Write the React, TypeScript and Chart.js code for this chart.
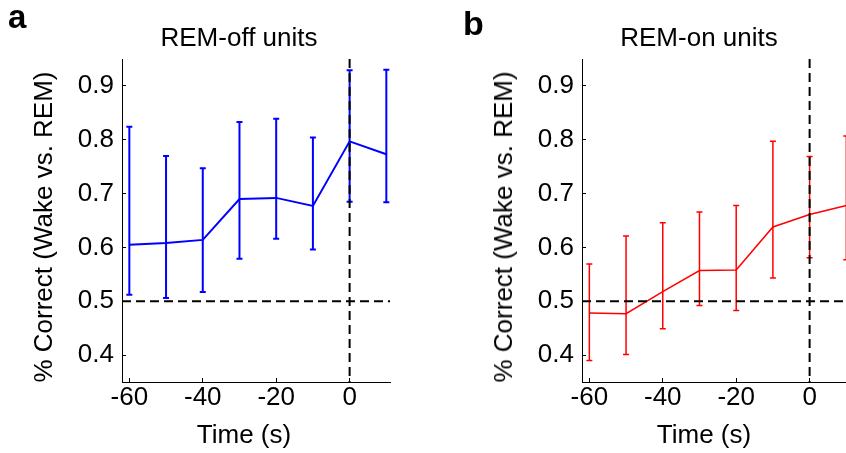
import React, { useEffect, useRef } from "react";
import { Chart, registerables } from "chart.js";

Chart.register(...registerables);

// ---------- data ----------
const timePoints = [-60, -50, -40, -30, -20, -10, 0, 10];

const remOffMean = [0.605, 0.608, 0.614, 0.69, 0.692, 0.677, 0.797, 0.773];
const remOffUpper = [0.824, 0.77, 0.747, 0.833, 0.839, 0.804, 0.929, 0.93];
const remOffLower = [0.512, 0.506, 0.517, 0.579, 0.616, 0.596, 0.685, 0.684];

const remOnMean = [0.478, 0.477, 0.518, 0.557, 0.558, 0.638, 0.661, 0.678];
const remOnUpper = [0.569, 0.621, 0.646, 0.666, 0.678, 0.797, 0.769, 0.807];
const remOnLower = [0.39, 0.401, 0.449, 0.492, 0.483, 0.543, 0.581, 0.577];

const yTicks = [0.4, 0.5, 0.6, 0.7, 0.8, 0.9];
const xTicks = [-60, -40, -20, 0];
const chanceLevel = 0.5;
const onsetTime = 0;

const FONT = '"Liberation Sans", Arial, Helvetica, sans-serif';

type PanelProps = {
  mean: number[];
  upper: number[];
  lower: number[];
  color: string;
  lineWidth: number;
};

function makeOverlayPlugin(p: PanelProps) {
  return {
    id: "overlay",
    afterDatasetsDraw(chart: any) {
      const { ctx, chartArea, scales } = chart;
      const xs = scales.x;
      const ys = scales.y;
      ctx.save();
      // error bars
      ctx.strokeStyle = p.color;
      ctx.lineWidth = p.lineWidth;
      ctx.setLineDash([]);
      for (let i = 0; i < timePoints.length; i++) {
        const px = xs.getPixelForValue(timePoints[i]);
        const pu = ys.getPixelForValue(p.upper[i]);
        const pl = ys.getPixelForValue(p.lower[i]);
        ctx.beginPath();
        ctx.moveTo(px, pu);
        ctx.lineTo(px, pl);
        ctx.moveTo(px - 3, pu);
        ctx.lineTo(px + 3, pu);
        ctx.moveTo(px - 3, pl);
        ctx.lineTo(px + 3, pl);
        ctx.stroke();
      }
      // reference dashed lines
      ctx.strokeStyle = "#000";
      ctx.lineWidth = 2;
      ctx.setLineDash([9, 5]);
      const yc = ys.getPixelForValue(chanceLevel);
      ctx.beginPath();
      ctx.moveTo(chartArea.left, yc);
      ctx.lineTo(chartArea.right, yc);
      ctx.stroke();
      const x0 = xs.getPixelForValue(onsetTime);
      ctx.beginPath();
      ctx.moveTo(x0, chartArea.top);
      ctx.lineTo(x0, chartArea.bottom);
      ctx.stroke();
      ctx.restore();
    },
  };
}

function Panel(props: PanelProps) {
  const ref = useRef<HTMLCanvasElement | null>(null);
  useEffect(() => {
    if (!ref.current) return;
    const chart = new Chart(ref.current, {
      type: "line",
      data: {
        datasets: [
          {
            data: timePoints.map((t, i) => ({ x: t, y: props.mean[i] })),
            borderColor: props.color,
            borderWidth: props.lineWidth,
            pointRadius: 0,
            tension: 0,
            fill: false,
          },
        ],
      },
      options: {
        animation: false,
        responsive: false,
        events: [],
        layout: { padding: { top: 59, right: 33, left: 0, bottom: 0 } },
        plugins: {
          legend: { display: false },
          tooltip: { enabled: false },
          title: { display: false },
        },
        scales: {
          x: {
            type: "linear",
            min: -62,
            max: 11,
            afterBuildTicks: (s: any) => {
              s.ticks = xTicks.map((v) => ({ value: v }));
            },
            afterFit: (s: any) => {
              s.height = 71;
            },
            ticks: {
              color: "#000",
              font: { family: FONT, size: 26 },
              padding: 4,
              maxRotation: 0,
              autoSkip: false,
              callback: (v: any) => String(v),
            },
            grid: {
              drawOnChartArea: false,
              drawTicks: true,
              tickLength: -4,
              color: "#000",
              lineWidth: 1,
            },
            border: { display: true, color: "#000", width: 1 },
          },
          y: {
            type: "linear",
            min: 0.35,
            max: 0.95,
            afterBuildTicks: (s: any) => {
              s.ticks = yTicks.map((v) => ({ value: v }));
            },
            afterFit: (s: any) => {
              s.width = 122;
            },
            ticks: {
              color: "#000",
              font: { family: FONT, size: 26 },
              padding: 12,
              autoSkip: false,
              callback: (v: any) => Number(v).toFixed(1),
            },
            grid: {
              drawOnChartArea: false,
              drawTicks: true,
              tickLength: -4,
              color: "#000",
              lineWidth: 1,
            },
            border: { display: true, color: "#000", width: 1 },
          },
        },
      } as any,
      plugins: [makeOverlayPlugin(props)],
    });
    return () => chart.destroy();
  }, []);
  return <canvas ref={ref} width={423} height={453} style={{ display: "block" }} />;
}

const textBase: React.CSSProperties = {
  position: "absolute",
  fontFamily: FONT,
  fontSize: 26,
  lineHeight: 1,
  whiteSpace: "nowrap",
  color: "#000",
};

function PanelBlock(props: PanelProps & { left: number; letter: string; title: string; letterBaseline: number }) {
  return (
    <div style={{ position: "absolute", left: props.left, top: 0, width: 423, height: 453 }}>
      <Panel {...props} />
      <div style={{ ...textBase, left: 117 + 122, top: 24, transform: "translateX(-50%)" }}>{props.title}</div>
      <div style={{ ...textBase, left: 244, top: 421, transform: "translateX(-50%)" }}>Time (s)</div>
      <div
        style={{
          ...textBase,
          left: 42.5,
          top: 226.5,
          transform: "translate(-50%, -50%) rotate(-90deg)",
        }}
      >
        % Correct (Wake vs. REM)
      </div>
    </div>
  );
}

export default function App() {
  return (
    <div
      style={{
        position: "fixed",
        left: 0,
        top: 0,
        width: 846,
        height: 453,
        overflow: "hidden",
        background: "#fff",
      }}
    >
      <PanelBlock
        left={0}
        letter="a"
        title="REM-off units"
        letterBaseline={28}
        mean={remOffMean}
        upper={remOffUpper}
        lower={remOffLower}
        color="#0000ff"
        lineWidth={2}
      />
      <PanelBlock
        left={460}
        letter="b"
        title="REM-on units"
        letterBaseline={35}
        mean={remOnMean}
        upper={remOnUpper}
        lower={remOnLower}
        color="#ff0000"
        lineWidth={1.5}
      />
      <div style={{ ...textBase, fontSize: 33, fontWeight: "bold", left: 8, top: 28 - 28 }}>a</div>
      <div style={{ ...textBase, fontSize: 34, fontWeight: "bold", left: 463, top: 35 - 29 }}>b</div>
    </div>
  );
}
